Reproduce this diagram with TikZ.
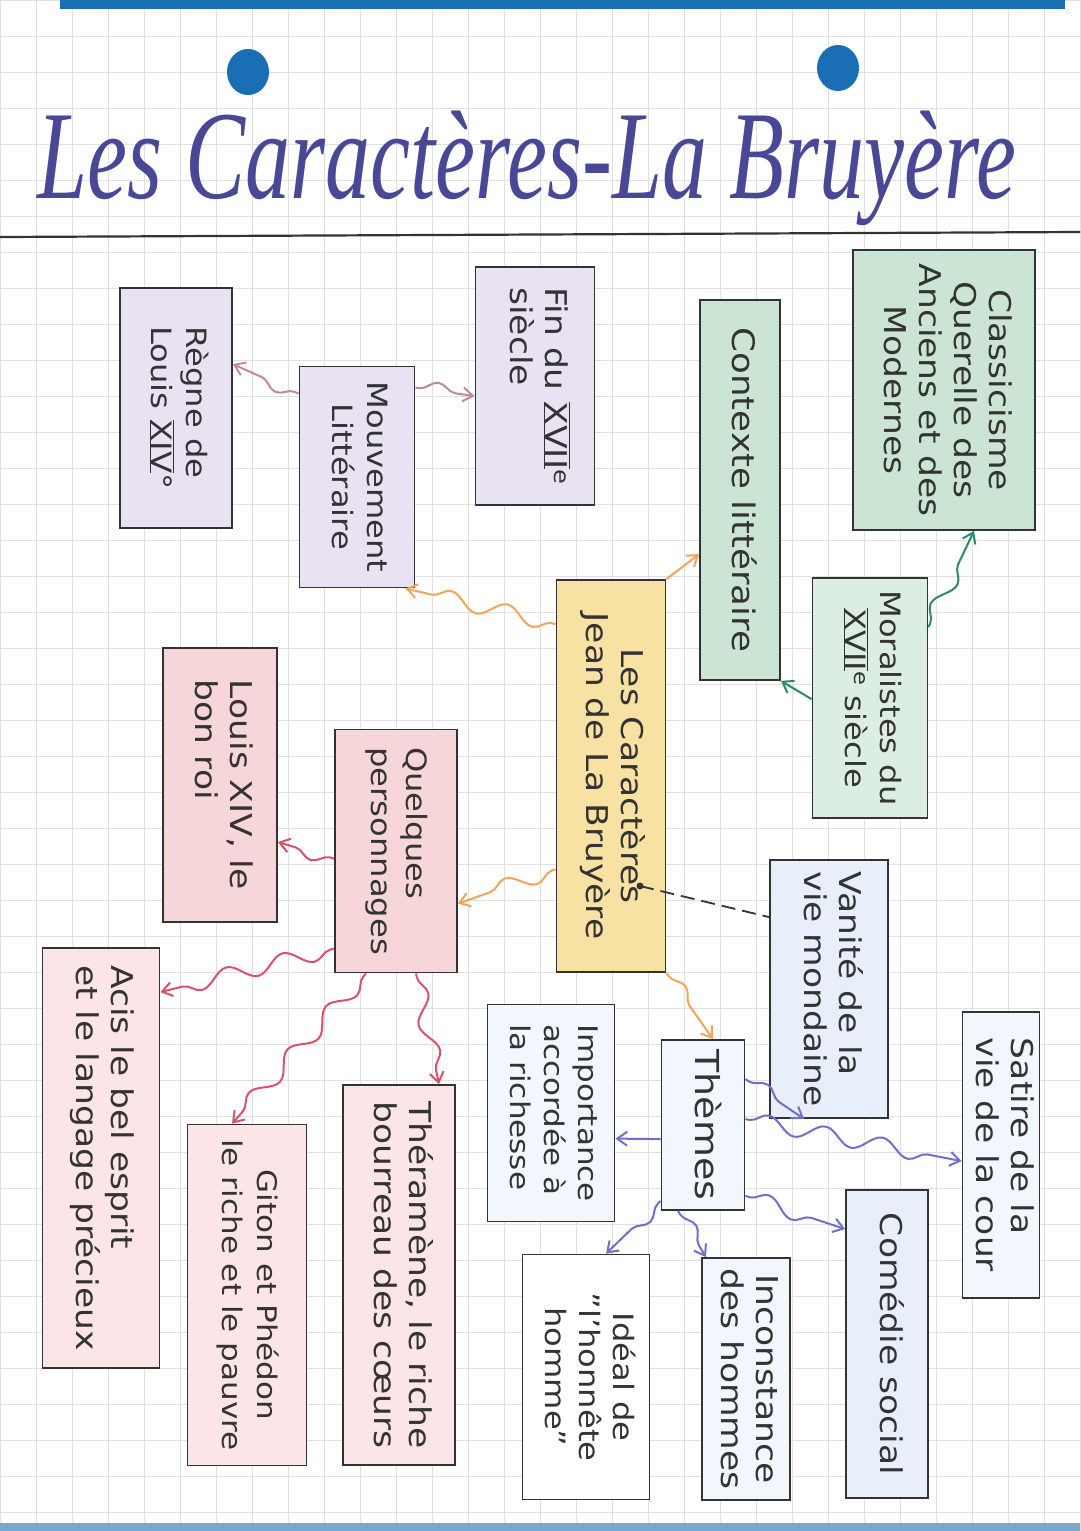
\documentclass[tikz,border=0pt]{standalone}
\usepackage{fontspec}
\usepackage{graphicx}
\usepackage{xcolor}
\usetikzlibrary{shapes,arrows,arrows.meta,positioning,calc,decorations.pathmorphing}
\setmainfont{DejaVu Sans}
\newfontfamily\titlefont{Liberation Serif}
\definecolor{lavande}{RGB}{232,226,243}
\definecolor{vert}{RGB}{204,228,211}
\definecolor{vertclair}{RGB}{220,238,226}
\definecolor{jaune}{RGB}{247,225,163}
\definecolor{rose}{RGB}{246,214,216}
\definecolor{roseclair}{RGB}{251,229,231}
\definecolor{bleuclair}{RGB}{232,239,251}
\definecolor{bleublanc}{RGB}{242,246,253}
\definecolor{encre}{RGB}{72,72,150}
\definecolor{stylo}{RGB}{26,110,180}
\definecolor{mauve}{RGB}{192,138,154}
\definecolor{orange}{RGB}{240,165,90}
\definecolor{vertfonce}{RGB}{47,138,106}
\definecolor{rouge}{RGB}{216,82,104}
\definecolor{bleu}{RGB}{112,112,200}
\newcommand{\vtxt}[2][c]{\rotatebox{-90}{\scalebox{1.15}[1]{\begin{tabular}{@{}#1@{}}#2\end{tabular}}}}
\newcommand{\rom}[1]{$\overline{\underline{\hbox{#1}}}$}

\begin{document}
\begin{tikzpicture}[x=1pt,y=-1pt,
  box/.style={rectangle, draw=black!80, line width=1.8pt, text=black!80, inner sep=0pt,
    font=\fontsize{30}{35}\selectfont},
  lien/.style={decorate, decoration={snake, amplitude=8pt, segment length=58pt,
    pre length=4pt, post length=12pt}, line width=2pt,
    -{Straight Barb[length=10pt, width=14pt]}}]
\useasboundingbox (0,0) rectangle (1080,1531);
% Feuille
\fill[white] (0,0) rectangle (1080,1531);
\foreach \x in {0,36,...,1080} \draw[black!12, line width=0.8pt] (\x,0) -- (\x,1531);
\foreach \y in {0,36,...,1531} \draw[black!12, line width=0.8pt] (0,\y) -- (1080,\y);
\fill[stylo] (60,0) rectangle (1065,9);
\fill[stylo!60] (0,1523) rectangle (1080,1531);
\fill[stylo] (248,72) ellipse (21 and 23);
\fill[stylo] (838,68) ellipse (21 and 23);

% Titre
\node[font=\titlefont\itshape\fontsize{90}{92}\selectfont, text=encre] (titre) at (527,168)
  {\scalebox{1}[1.4]{Les Caractères-La Bruyère}};
\draw[line width=2.2pt, black!80] (0,237) -- (1080,232);

% Contexte
\node[box, fill=lavande, minimum width=112pt, minimum height=240pt, font=\fontsize{28}{35}\selectfont] (regne) at (176,408)
  {\vtxt[l]{Règne de\\Louis \rom{XIV}°}};
\node[box, fill=lavande, minimum width=115pt, minimum height=221pt, font=\fontsize{28}{35}\selectfont] (mouv) at (357,477)
  {\vtxt{Mouvement\\Littéraire}};
\node[box, fill=lavande, minimum width=119pt, minimum height=238pt] (fin) at (535,386)
  {\vtxt[l]{Fin du \rom{XVII}$^{\mathrm{e}}$\\siècle}};
\node[box, fill=vert, minimum width=80pt, minimum height=380pt, font=\fontsize{31}{35}\selectfont] (contexte) at (740,490)
  {\vtxt{Contexte littéraire}};
\node[box, fill=vert, minimum width=182pt, minimum height=280pt] (classic) at (944,390)
  {\vtxt{Classicisme\\Querelle des\\Anciens et des\\Modernes}};
\node[box, fill=vertclair, minimum width=115pt, minimum height=240pt, font=\fontsize{28}{35}\selectfont] (moral) at (870,698)
  {\vtxt{Moralistes du\\\rom{XVII}$^{\mathrm{e}}$ siècle}};

% Oeuvre
\node[box, fill=jaune, minimum width=109pt, minimum height=392pt] (carac) at (611,776)
  {\vtxt{Les Caractères\\Jean de La Bruyère}};

% Personnages
\node[box, fill=rose, minimum width=114pt, minimum height=274pt] (louis) at (220,785)
  {\vtxt[l]{Louis XIV, le\\bon roi}};
\node[box, fill=rose, minimum width=122pt, minimum height=243pt, font=\fontsize{28}{35}\selectfont] (quelq) at (396,851)
  {\vtxt[l]{Quelques\\personnages}};
\node[box, fill=roseclair, minimum width=117pt, minimum height=420pt] (acis) at (101,1158)
  {\vtxt[l]{Acis le bel esprit\\et le langage précieux}};
\node[box, fill=roseclair, minimum width=119pt, minimum height=341pt, font=\fontsize{27}{35}\selectfont] (giton) at (247,1295)
  {\vtxt{Giton et Phédon\\le riche et le pauvre}};
\node[box, fill=roseclair, minimum width=112pt, minimum height=380pt] (thera) at (399,1275)
  {\vtxt[l]{Théramène, le riche\\bourreau des cœurs}};

% Themes
\node[box, fill=bleublanc, minimum width=83pt, minimum height=170pt, font=\fontsize{33}{40}\selectfont] (themes) at (703,1125)
  {\vtxt{Thèmes}};
\node[box, fill=bleublanc, minimum width=127pt, minimum height=217pt, font=\fontsize{27}{34}\selectfont] (impor) at (551,1113)
  {\vtxt[l]{Importance\\accordée à\\la richesse}};
\node[box, fill=bleuclair, minimum width=118pt, minimum height=258pt] (vanite) at (829,989)
  {\vtxt[l]{Vanité de la\\vie mondaine}};
\node[box, fill=bleublanc, minimum width=77pt, minimum height=286pt] (satire) at (1001,1155)
  {\vtxt[l]{Satire de la\\vie de la cour}};
\node[box, fill=bleuclair, minimum width=82pt, minimum height=308pt] (comedie) at (887,1344)
  {\vtxt{Comédie social}};
\node[box, fill=bleublanc, minimum width=88pt, minimum height=242pt] (incons) at (746,1379)
  {\vtxt{Inconstance\\des hommes}};
\node[box, fill=white, minimum width=127pt, minimum height=245pt, font=\fontsize{28}{34}\selectfont] (ideal) at (586,1377)
  {\vtxt{Idéal de\\\char`\"l'honnête\\homme\char`\"}};

% Liens
\draw[lien, mauve] ([yshift=-28pt]mouv.north west) -- ([yshift=-77pt]regne.north east);
\draw[lien, mauve] ([yshift=-22pt]mouv.north east) -- ([yshift=-130pt]fin.north west);
\draw[lien, orange] ([yshift=-45pt]carac.north west) -- ([xshift=-10pt]mouv.south east);
\draw[lien, orange] (carac.north east) -- ([yshift=-255pt]contexte.north west);
\draw[lien, vertfonce] ([yshift=-122pt]moral.north west) -- (contexte.south east);
\draw[lien, vertfonce] ([yshift=-50pt]moral.north east) -- ([xshift=30pt]classic.south);
\draw[lien, orange] ([yshift=-290pt]carac.north west) -- ([yshift=-175pt]quelq.north east);
\draw[lien, orange] (carac.south east) -- ([xshift=10pt]themes.north);
\coordinate (pointe) at (640,886);
\fill[black!80] (pointe) circle (3.5);
\draw[line width=1.8pt, black!80, dash pattern=on 14pt off 7pt] (pointe) -- ([yshift=-58pt]vanite.north west);

\draw[lien, rouge] ([yshift=-130pt]quelq.north west) -- ([yshift=-195pt]louis.north east);
\draw[lien, rouge] ([yshift=-220pt]quelq.north west) -- ([yshift=-45pt]acis.north east);
\draw[lien, rouge] ([xshift=-30pt]quelq.south) -- ([xshift=-15pt]giton.north);
\draw[lien, rouge] ([xshift=20pt]quelq.south) -- ([xshift=40pt]thera.north);

\draw[lien, bleu] ([yshift=-100pt]themes.north west) -- ([yshift=-135pt]impor.north east);
\draw[lien, bleu] ([yshift=-40pt]themes.north east) -- ([xshift=-25pt]vanite.south);
\draw[lien, bleu] ([yshift=-80pt]themes.north east) -- ([yshift=-150pt]satire.north west);
\draw[lien, bleu] ([yshift=15pt]themes.south east) -- ([yshift=-40pt]comedie.north west);
\draw[lien, bleu] ([xshift=-25pt]themes.south) -- ([xshift=-40pt]incons.north);
\draw[lien, bleu] ([yshift=10pt]themes.south west) -- ([xshift=20pt]ideal.north);
\end{tikzpicture}
\end{document}
